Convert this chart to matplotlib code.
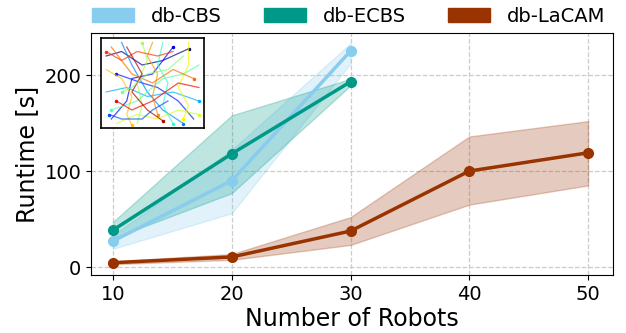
import matplotlib
matplotlib.use("Agg")
import matplotlib.pyplot as plt
from matplotlib.patches import Patch
import numpy as np

robots_cbs = [10, 20, 30]
cbs_mean = [27, 90, 225]
cbs_low = [19, 56, 212]
cbs_high = [33, 122, 233]

robots_ecbs = [10, 20, 30]
ecbs_mean = [38.5, 118, 193]
ecbs_low = [30, 77, 189]
ecbs_high = [47, 158, 196]

robots_lacam = [10, 20, 30, 40, 50]
lacam_mean = [4.5, 10.5, 37.5, 100, 119]
lacam_low = [3, 7.5, 23, 65, 85]
lacam_high = [6, 13.5, 52, 136, 152]

names = ["db-CBS", "db-ECBS", "db-LaCAM"]
colors = ["#88CCEE", "#009988", "#993300"]

# decorative inset trajectories (waypoints in unit square)
traj = [
    [(0.05, 0.80), (0.20, 0.85), (0.40, 0.70), (0.60, 0.75), (0.85, 0.88)],
    [(0.10, 0.10), (0.25, 0.30), (0.30, 0.55), (0.50, 0.60), (0.70, 0.90)],
    [(0.90, 0.10), (0.75, 0.30), (0.55, 0.45), (0.40, 0.50), (0.15, 0.60)],
    [(0.20, 0.95), (0.30, 0.70), (0.45, 0.40), (0.60, 0.20), (0.80, 0.05)],
    [(0.05, 0.40), (0.25, 0.45), (0.45, 0.35), (0.70, 0.40), (0.95, 0.30)],
    [(0.60, 0.95), (0.55, 0.70), (0.65, 0.50), (0.60, 0.25), (0.70, 0.05)],
    [(0.95, 0.70), (0.80, 0.60), (0.60, 0.55), (0.35, 0.30), (0.10, 0.20)],
    [(0.35, 0.05), (0.40, 0.25), (0.35, 0.50), (0.45, 0.75), (0.40, 0.95)],
    [(0.15, 0.05), (0.35, 0.15), (0.55, 0.10), (0.75, 0.20), (0.95, 0.15)],
    [(0.85, 0.95), (0.85, 0.70), (0.75, 0.45), (0.85, 0.25), (0.80, 0.10)],
    [(0.05, 0.65), (0.20, 0.55), (0.30, 0.35), (0.25, 0.15), (0.30, 0.03)],
    [(0.50, 0.95), (0.45, 0.80), (0.55, 0.60), (0.50, 0.35), (0.55, 0.15)],
    [(0.10, 0.90), (0.30, 0.60), (0.50, 0.50), (0.70, 0.65), (0.90, 0.55)],
    [(0.70, 0.85), (0.55, 0.80), (0.35, 0.85), (0.20, 0.75), (0.05, 0.85)],
    [(0.95, 0.45), (0.75, 0.50), (0.50, 0.30), (0.30, 0.20), (0.15, 0.30)],
    [(0.25, 0.90), (0.40, 0.60), (0.30, 0.40), (0.45, 0.20), (0.60, 0.08)],
    [(0.65, 0.30), (0.50, 0.20), (0.40, 0.10), (0.20, 0.10), (0.08, 0.15)],
    [(0.80, 0.80), (0.65, 0.65), (0.45, 0.60), (0.30, 0.45), (0.20, 0.40)],
]
traj_colors = [0.0, 0.1, 0.15, 0.25, 0.3, 0.4, 0.45, 0.55, 0.6, 0.65,
               0.7, 0.75, 0.8, 0.85, 0.9, 0.95, 0.2, 0.5]

fig = plt.figure(figsize=(6.26, 3.33), dpi=100)
ax = fig.add_axes([91/626, 1 - 275/333, (613-91)/626, (275-33)/333])

series = [
    (robots_cbs, cbs_mean, cbs_low, cbs_high),
    (robots_ecbs, ecbs_mean, ecbs_low, ecbs_high),
    (robots_lacam, lacam_mean, lacam_low, lacam_high),
]
for (x, m, lo, hi), c in zip(series, colors):
    ax.fill_between(x, lo, hi, color=c, alpha=0.25, linewidth=1)
    ax.plot(x, m, color=c, lw=2.5, marker="o", markersize=7)

ax.set_xlim(8.15, 52.1)
ax.set_ylim(-8.3, 243.8)
ax.set_xticks([10, 20, 30, 40, 50])
ax.set_yticks([0, 100, 200])
ax.tick_params(labelsize=14)
ax.grid(True, linestyle="--", color="#cccccc", linewidth=0.9)
ax.set_axisbelow(True)
ax.set_xlabel("Number of Robots", fontsize=17, labelpad=2)
ax.set_ylabel("Runtime [s]", fontsize=17, labelpad=4)

handles = [Patch(facecolor=c, edgecolor=c) for c in colors]
fig.legend(handles, names, loc="upper left", ncol=3, frameon=False,
           fontsize=14, bbox_to_anchor=(92/626, 1 - 7/333), borderpad=0,
           borderaxespad=0, handlelength=2.16, handleheight=0.77,
           handletextpad=0.88, columnspacing=2.16)

inset = fig.add_axes([101/626, 1 - 128/333, (204-101)/626, (128-38)/333])
cmap = plt.get_cmap("jet")
for pts, cv in zip(traj, traj_colors):
    xs = [p[0] for p in pts]
    ys = [p[1] for p in pts]
    inset.plot(xs, ys, color=cmap(cv), lw=0.9, alpha=0.7)
    inset.plot(xs[-1], ys[-1], marker="o", markersize=1.5, color=cmap(cv))
inset.set_xlim(0, 1)
inset.set_ylim(0, 1)
inset.set_xticks([])
inset.set_yticks([])
for s in inset.spines.values():
    s.set_linewidth(1.2)

fig.savefig("out.png", dpi=100)
